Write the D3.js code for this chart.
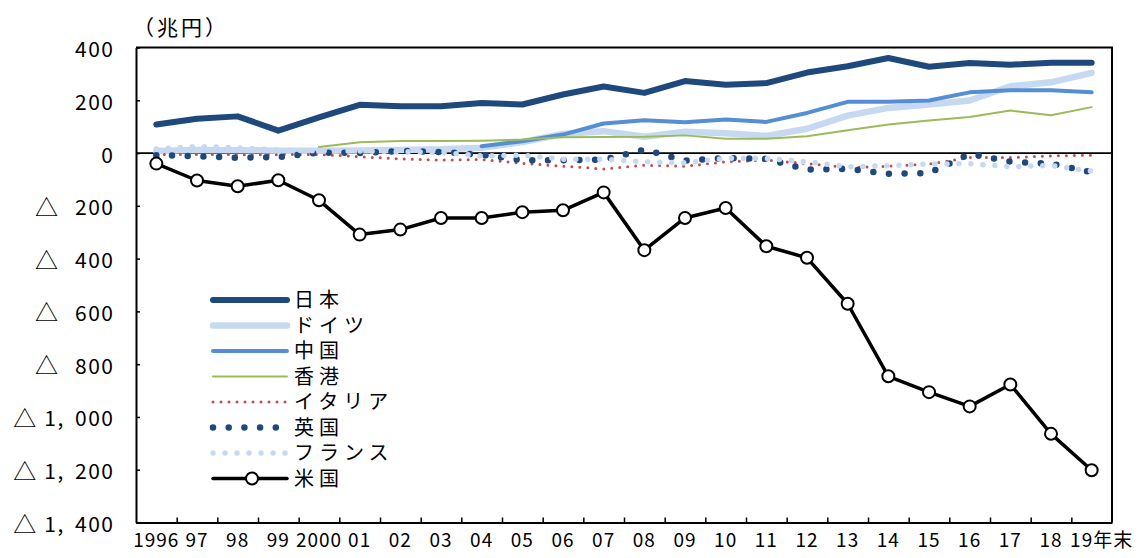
<!DOCTYPE html>
<html>
<head>
<meta charset="utf-8">
<script src="https://cdn.jsdelivr.net/npm/d3@7"></script>
<style>
  html, body { margin: 0; padding: 0; background: #fff; }
  svg { display: block; }
  .num { font-family: "Liberation Sans Narrow", "Noto Sans CJK JP", sans-serif; fill: #000; }
  .jp  { font-family: "Noto Sans CJK JP", sans-serif; fill: #000; }
</style>
</head>
<body>
<svg id="chart" width="1139" height="558"></svg>
<script>
// Net external assets by country, year-end (trillion yen)
const years = [1996, 1997, 1998, 1999, 2000, 2001, 2002, 2003, 2004, 2005, 2006, 2007,
               2008, 2009, 2010, 2011, 2012, 2013, 2014, 2015, 2016, 2017, 2018, 2019];
const yearLabels = ["1996", "97", "98", "99", "2000", "01", "02", "03", "04", "05", "06", "07",
                    "08", "09", "10", "11", "12", "13", "14", "15", "16", "17", "18", "19年末"];
const yTicks = [400, 200, 0, -200, -400, -600, -800, -1000, -1200, -1400];
const unitLabel = "（兆円）";

const japan   = [108, 130, 139, 85, 135, 183, 177, 177, 190, 184, 222, 252,
                 228, 273, 259, 265, 305, 329, 360, 327, 341, 335, 342, 342];
const germany = [8, 12, 11, 9, 9, 10, 12, 14, 20, 42, 72, 83,
                 62, 81, 75, 65, 92, 142, 171, 184, 199, 253, 268, 304];
const china   = [null, null, null, null, null, null, null, null, 26, 45, 70, 112,
                 124, 117, 127, 118, 152, 194, 194, 199, 230, 238, 238, 230];
const hongkong = [null, null, null, null, 23, 41, 46, 46, 47, 51, 60, 61,
                  62, 67, 54, 54, 64, 86, 108, 123, 137, 161, 143, 174];
const italy   = [-5, -5, -6, -6, -5, -14, -22, -27, -24, -39, -50, -60,
                 -46, -50, -33, -27, -40, -55, -50, -42, -17, -17, -11, -8];
const uk      = [-8, -12, -18, -15, 2, 0, 8, 4, -6, -27, -27, -25,
                 13, -29, -19, -22, -63, -60, -78, -76, -3, -33, -40, -73];
const france  = [15, 25, 20, 12, 8, 8, 5, 3, -11, -8, -23, -23,
                 -33, -37, -20, -20, -33, -52, -48, -42, -40, -52, -47, -69];
const usa     = [-40, -104, -126, -103, -179, -309, -290, -246, -246, -224, -217, -149,
                 -368, -246, -208, -353, -397, -571, -846, -906, -960, -877, -1064, -1202];

const seriesNames = ["日本", "ドイツ", "中国", "香港", "イタリア", "英国", "フランス", "米国"];
const seriesValues = [japan, germany, china, hongkong, italy, uk, france, usa];
const seriesStyles = [
  { color: "#1f497d", width: 6,   dash: null },
  { color: "#c6d9f1", width: 6.5, dash: null },
  { color: "#558ed5", width: 4,   dash: null },
  { color: "#9bbb59", width: 2,   dash: null },
  { color: "#c0504d", width: 3,   dash: "0 8" },
  { color: "#1f497d", width: 6.5, dash: "0 15.7" },
  { color: "#c6d9f1", width: 5.5, dash: "0 12" },
  { color: "#000000", width: 3.5, dash: null, marker: true }
];

const svg = d3.select("#chart");
const plot = { left: 136, right: 1112, top: 47.5, bottom: 522.5 };

const x = d3.scaleBand().domain(years).range([plot.left, plot.right]).padding(0);
const xc = d => x(d) + x.bandwidth() / 2;
const xEdge = d3.scaleLinear().domain([0, years.length]).range([plot.left, plot.right]);
const y = d3.scaleLinear().domain([-1400, 400]).range([plot.bottom, plot.top]);

// zero line
svg.append("line")
  .attr("x1", plot.left).attr("x2", plot.right)
  .attr("y1", y(0)).attr("y2", y(0))
  .attr("stroke", "#000").attr("stroke-width", 1.8);

// series
const line = d3.line()
  .defined(d => d.v !== null)
  .x(d => xc(d.year))
  .y(d => y(d.v));

seriesValues.forEach((vals, i) => {
  const st = seriesStyles[i];
  const pts = years.map((yr, k) => ({ year: yr, v: vals[k] }));
  svg.append("path")
    .datum(pts)
    .attr("d", line)
    .attr("fill", "none")
    .attr("stroke", st.color)
    .attr("stroke-width", st.width)
    .attr("stroke-linejoin", "round")
    .attr("stroke-linecap", "round")
    .attr("stroke-dasharray", st.dash);
  if (st.marker) {
    svg.append("g").selectAll("circle")
      .data(pts.filter(d => d.v !== null))
      .join("circle")
      .attr("cx", d => xc(d.year))
      .attr("cy", d => y(d.v))
      .attr("r", 6)
      .attr("fill", "#fff")
      .attr("stroke", "#000")
      .attr("stroke-width", 2);
  }
});

// frame (top and right)
svg.append("path")
  .attr("d", `M${plot.left},${plot.top}H${plot.right}V${plot.bottom}`)
  .attr("fill", "none").attr("stroke", "#000").attr("stroke-width", 2);

// y axis
const numText = v => d3.format(",")(Math.abs(v)).replace(",", ", ");
const yAxis = svg.append("g")
  .attr("transform", `translate(${plot.left},0)`)
  .call(d3.axisLeft(y).tickValues(yTicks).tickSizeInner(-4).tickSizeOuter(0).tickFormat(""));
yAxis.select(".domain").attr("stroke", "#000").attr("stroke-width", 2);
yAxis.selectAll(".tick line").attr("stroke", "#000").attr("stroke-width", 1.5);

const yLabels = svg.append("g").selectAll("g")
  .data(yTicks)
  .join("g");
yLabels.append("text")
  .attr("class", "num")
  .attr("x", 114.5)
  .attr("y", d => y(d) + 9.5)
  .attr("text-anchor", "end")
  .style("font-size", "21px")
  .style("letter-spacing", "1.5px")
  .style("word-spacing", "4px")
  .text(numText)
  .each(function (d) {
    if (d >= 0) return;
    // negative values carry a △ mark in front of the number
    const bb = this.getBBox();
    const gap = Math.abs(d) >= 1000 ? 8 : 17;
    d3.select(this.parentNode).append("text")
      .attr("class", "jp")
      .attr("x", bb.x - gap)
      .attr("y", y(d) + 10)
      .attr("text-anchor", "end")
      .style("font-size", "23px")
      .text("△");
  });

// x axis
const xAxis = svg.append("g")
  .attr("transform", `translate(0,${plot.bottom})`)
  .call(d3.axisBottom(xEdge).tickValues(d3.range(1, years.length)).tickSizeInner(-5).tickSizeOuter(0).tickFormat(""));
xAxis.select(".domain").attr("stroke", "#000").attr("stroke-width", 2);
xAxis.selectAll(".tick line").attr("stroke", "#000").attr("stroke-width", 1.5);

svg.append("g").selectAll("text")
  .data(years)
  .join("text")
  .attr("class", "num")
  .attr("x", (d, i) => xc(d) + (i === years.length - 1 ? 10 : 0))
  .attr("y", 547)
  .attr("text-anchor", "middle")
  .style("font-size", "19px")
  .style("letter-spacing", "1px")
  .text((d, i) => yearLabels[i]);

// unit label
svg.append("text")
  .attr("class", "jp")
  .attr("x", 133).attr("y", 35)
  .style("font-size", "21px")
  .style("letter-spacing", "3px")
  .text(unitLabel);

// legend
const legend = svg.append("g");
const lx0 = 213, lx1 = 287, ly0 = 300, lstep = 25.5;
seriesNames.forEach((name, i) => {
  const st = seriesStyles[i];
  const ly = ly0 + i * lstep;
  legend.append("line")
    .attr("x1", lx0).attr("x2", lx1).attr("y1", ly).attr("y2", ly)
    .attr("stroke", st.color)
    .attr("stroke-width", st.width)
    .attr("stroke-linecap", "round")
    .attr("stroke-dasharray", st.dash);
  if (st.marker) {
    legend.append("circle")
      .attr("cx", (lx0 + lx1) / 2 + 2).attr("cy", ly).attr("r", 6)
      .attr("fill", "#fff").attr("stroke", "#000").attr("stroke-width", 2);
  }
  legend.append("text")
    .attr("class", "jp")
    .attr("x", 294).attr("y", ly + 7)
    .style("font-size", "20px")
    .style("letter-spacing", "5px")
    .text(name);
});
</script>
</body>
</html>
